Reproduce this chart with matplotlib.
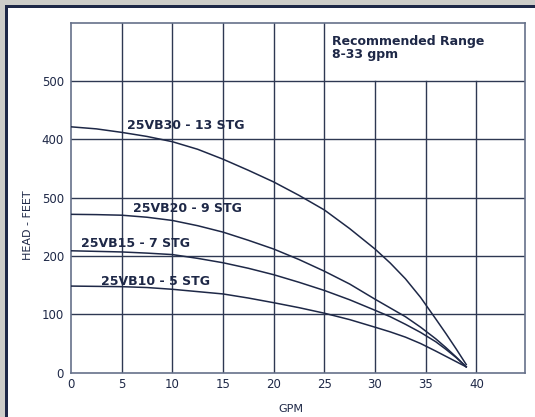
import matplotlib
matplotlib.use("Agg")
import matplotlib.pyplot as plt
from matplotlib.patches import Rectangle

# flow (gpm)
gpm = [0, 2.5, 5, 7.5, 10, 12.5, 15, 17.5, 20, 22.5, 25, 27.5, 30,
       31.5, 33, 34.5, 36, 37, 38, 39]

# head (feet) per model
vb30 = [421.5, 418, 412, 405, 396, 383, 366, 347, 327, 304, 279, 247, 212,
        188, 161, 129, 92, 67, 41, 14]
vb20 = [271.5, 271, 270, 266.5, 261, 252, 241, 227, 212, 194, 174, 152, 126,
        111, 96, 78, 58, 43, 27, 10]
vb15 = [209, 208, 207, 205, 202.5, 196, 188.5, 179, 168, 155, 141, 125, 107,
        96, 83, 69, 53, 40, 26, 10]
vb10 = [148.5, 148, 147.5, 146, 143, 139, 135, 128, 120, 111.5, 102, 91, 78,
        70, 61, 50, 37, 28, 19, 10]

labels = ["25VB30 - 13 STG", "25VB20 - 9 STG", "25VB15 - 7 STG", "25VB10 - 5 STG"]
label_pos = [(5.5, 423), (6.1, 282), (1.0, 221), (3.0, 157)]

xticks = [0, 5, 10, 15, 20, 25, 30, 35, 40]
yticks = [0, 100, 200, 300, 400, 500]
ytick_labels = ["0", "100", "200", "500", "400", "500"]  # as printed on the chart

NAVY = "#1e2847"
GRID = "#2e3852"

W, H = 535, 417
fig = plt.figure(figsize=(W / 100, H / 100), dpi=100, facecolor="#cdcdc9")
# white panel with dark frame on left/top
fig.patches.append(Rectangle((7 / W, 0), 1, 1 - 7 / H, transform=fig.transFigure,
                             facecolor="white", edgecolor="none", zorder=-2))
fig.patches.append(Rectangle((5 / W, 0), 3 / W, 1 - 5 / H, transform=fig.transFigure,
                             facecolor=NAVY, edgecolor="none", zorder=-1))
fig.patches.append(Rectangle((5 / W, 1 - 8 / H), 1, 3 / H, transform=fig.transFigure,
                             facecolor=NAVY, edgecolor="none", zorder=-1))

ax = fig.add_axes([71 / W, (H - 372.7) / H, 454 / W, 350 / H])
ax.set_zorder(5)
ax.set_xlim(0, 44.8)
ax.set_ylim(0, 600)

# grid: x lines at 30/35/40 stop at 500 (recommended range box above)
for x in range(5, 45, 5):
    top = 500 if x >= 30 else 600
    ax.plot([x, x], [0, top], color=GRID, lw=1.0, zorder=1)
for y in range(100, 600, 100):
    ax.axhline(y, color=GRID, lw=1.0, zorder=1)

for series in [vb30, vb20, vb15, vb10]:
    ax.plot(gpm, series, color=NAVY, lw=1.1, zorder=3, solid_joinstyle="round")

for text, (x, y) in zip(labels, label_pos):
    ax.text(x, y, text, fontsize=9, fontweight="bold", color=NAVY,
            ha="left", va="center", zorder=4)

ax.text(25.8, 579, "Recommended Range\n8-33 gpm", fontsize=9, fontweight="bold",
        color=NAVY, ha="left", va="top", linespacing=1.0)

for s in ax.spines.values():
    s.set_color("#66718a")
    s.set_linewidth(1.2)

ax.set_xticks(xticks)
ax.set_yticks(yticks)
ax.set_yticklabels(ytick_labels)
ax.tick_params(length=0, labelsize=8.5, colors=NAVY)
ax.tick_params(axis="y", pad=5)
ax.tick_params(axis="x", pad=4)
ax.set_xlabel("GPM", fontsize=8, color=NAVY)
ax.set_ylabel("HEAD - FEET", fontsize=8, color=NAVY)
ax.xaxis.set_label_coords(0.485, -0.089)
ax.yaxis.set_label_coords(-0.084, 0.422)

fig.savefig("out.png", dpi=100, facecolor=fig.get_facecolor())
